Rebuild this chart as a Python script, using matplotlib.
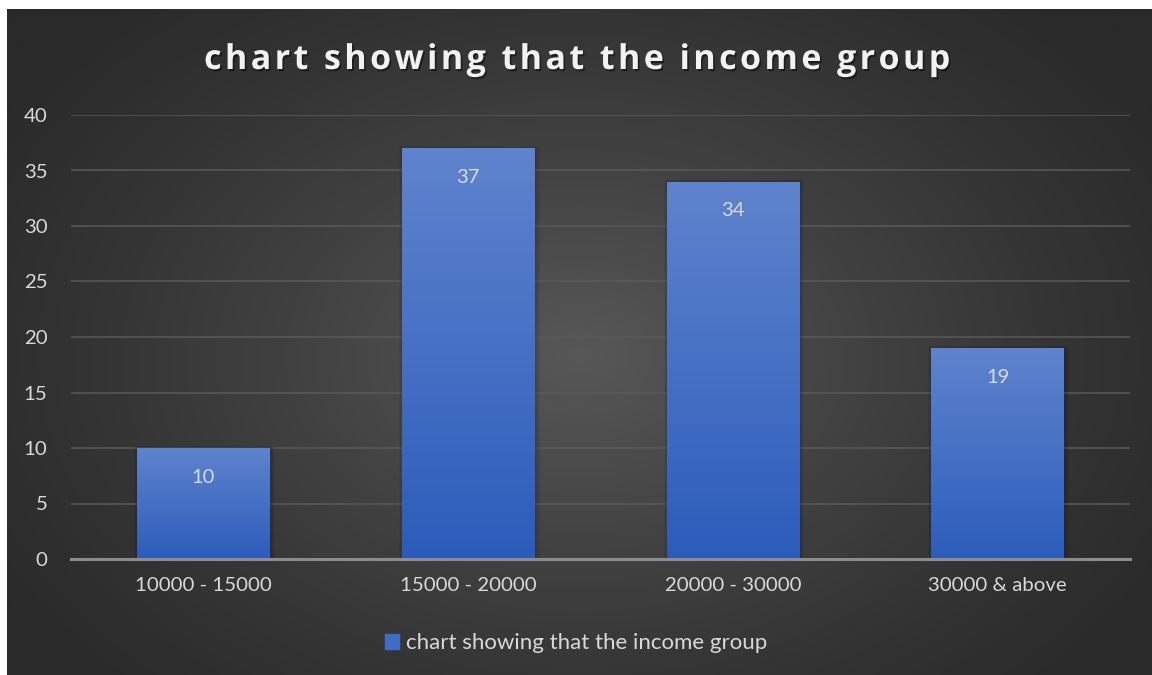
import numpy as np
import matplotlib.pyplot as plt
import matplotlib.patheffects as pe
from matplotlib.colors import LinearSegmentedColormap
from matplotlib.patches import Rectangle

plt.rcParams['font.family'] = ['Lato', 'DejaVu Sans']

categories = ['10000 - 15000', '15000 - 20000', '20000 - 30000', '30000 & above']
counts = [10, 37, 34, 19]
series_name = 'chart showing that the income group'
y_ticks = [0, 5, 10, 15, 20, 25, 30, 35, 40]

W, H = 1152, 675
fig = plt.figure(figsize=(W / 100, H / 100), dpi=100)
fig.patch.set_facecolor('white')

# dark panel with a soft radial glow in the middle
bg = fig.add_axes([7 / W, 0, 1 - 7 / W, 1 - 9 / H])
bg.set_axis_off()
yy, xx = np.mgrid[0:1:300j, 0:1:500j]
r = np.sqrt(((xx - 0.5) / 0.62) ** 2 + ((yy - 0.52) / 0.75) ** 2)
glow = np.clip(1 - r, 0, 1) ** 1.3
bg_cmap = LinearSegmentedColormap.from_list('panel', ['#2a2a2a', '#585858'])
bg.imshow(glow, cmap=bg_cmap, aspect='auto', extent=[0, 1, 0, 1], vmin=0, vmax=1)
bg.set_xlim(0, 1)
bg.set_ylim(0, 1)

ax = fig.add_axes([71 / W, 1 - 559 / H, (1130 - 71) / W, (559 - 115) / H])
ax.patch.set_alpha(0)

x = np.arange(len(categories))
bars = ax.bar(x, counts, width=0.5, color='none', zorder=3)

bar_cmap = LinearSegmentedColormap.from_list('bar', ['#2c5cbb', '#5f84cd'])
grad = np.linspace(0, 1, 256).reshape(-1, 1)
for b in bars:
    x0, w, h = b.get_x(), b.get_width(), b.get_height()
    # soft shadow: a few widening translucent layers behind the bar
    for k in range(1, 5):
        dx = 0.004 * k
        ax.add_patch(Rectangle((x0 - dx + 0.004, -0.2), w + 2 * dx, h + 0.2 + 0.05 * k,
                               color='black', alpha=0.045, zorder=2, lw=0))
    img = ax.imshow(grad, cmap=bar_cmap, origin='lower', aspect='auto',
                    extent=[x0, x0 + w, 0, h], zorder=3)
    img.set_clip_path(b)
    ax.annotate(f'{h:g}', (x0 + w / 2, h), xytext=(0, -21),
                textcoords='offset points', ha='center', va='center',
                fontsize=14.5, color='#d9d9d9', zorder=4)

ax.set_xlim(-0.5, len(categories) - 0.5)
ax.set_ylim(0, 40)
ax.set_yticks(y_ticks)
ax.set_xticks(x)
ax.set_xticklabels(categories)
ax.tick_params(axis='both', length=0, labelsize=14.7, colors='#d9d9d9')
ax.tick_params(axis='y', pad=17)
ax.tick_params(axis='x', pad=13)

ax.grid(axis='y', color='#5a5a5a', linewidth=1.1, zorder=1)
ax.set_axisbelow(True)
for s in ['top', 'right', 'left']:
    ax.spines[s].set_visible(False)
ax.spines['bottom'].set_color('#8c8c8c')
ax.spines['bottom'].set_linewidth(2.2)
ax.spines['bottom'].set_zorder(5)

# spaced-out bold title with a light drop shadow
spaced_title = '\u200a'.join(series_name)
fig.text(0.5, 1 - 60 / H, spaced_title, ha='center', va='center',
         fontsize=24.5, fontweight='bold', color='#f2f2f2',
         family=['Open Sans', 'DejaVu Sans'],
         path_effects=[pe.withSimplePatchShadow(offset=(1.2, -1.5), shadow_rgbFace='black',
                                                alpha=0.45)])

handle = Rectangle((0, 0), 1, 1, color='#3f6cc6')
leg = fig.legend([handle], [series_name], loc='center', bbox_to_anchor=(0.5, 1 - 643 / H),
                 frameon=False, fontsize=16, handlelength=0.65, handleheight=0.65,
                 handletextpad=0.3)
for t in leg.get_texts():
    t.set_color('#d9d9d9')

fig.savefig('out.png', dpi=100, facecolor=fig.get_facecolor())
